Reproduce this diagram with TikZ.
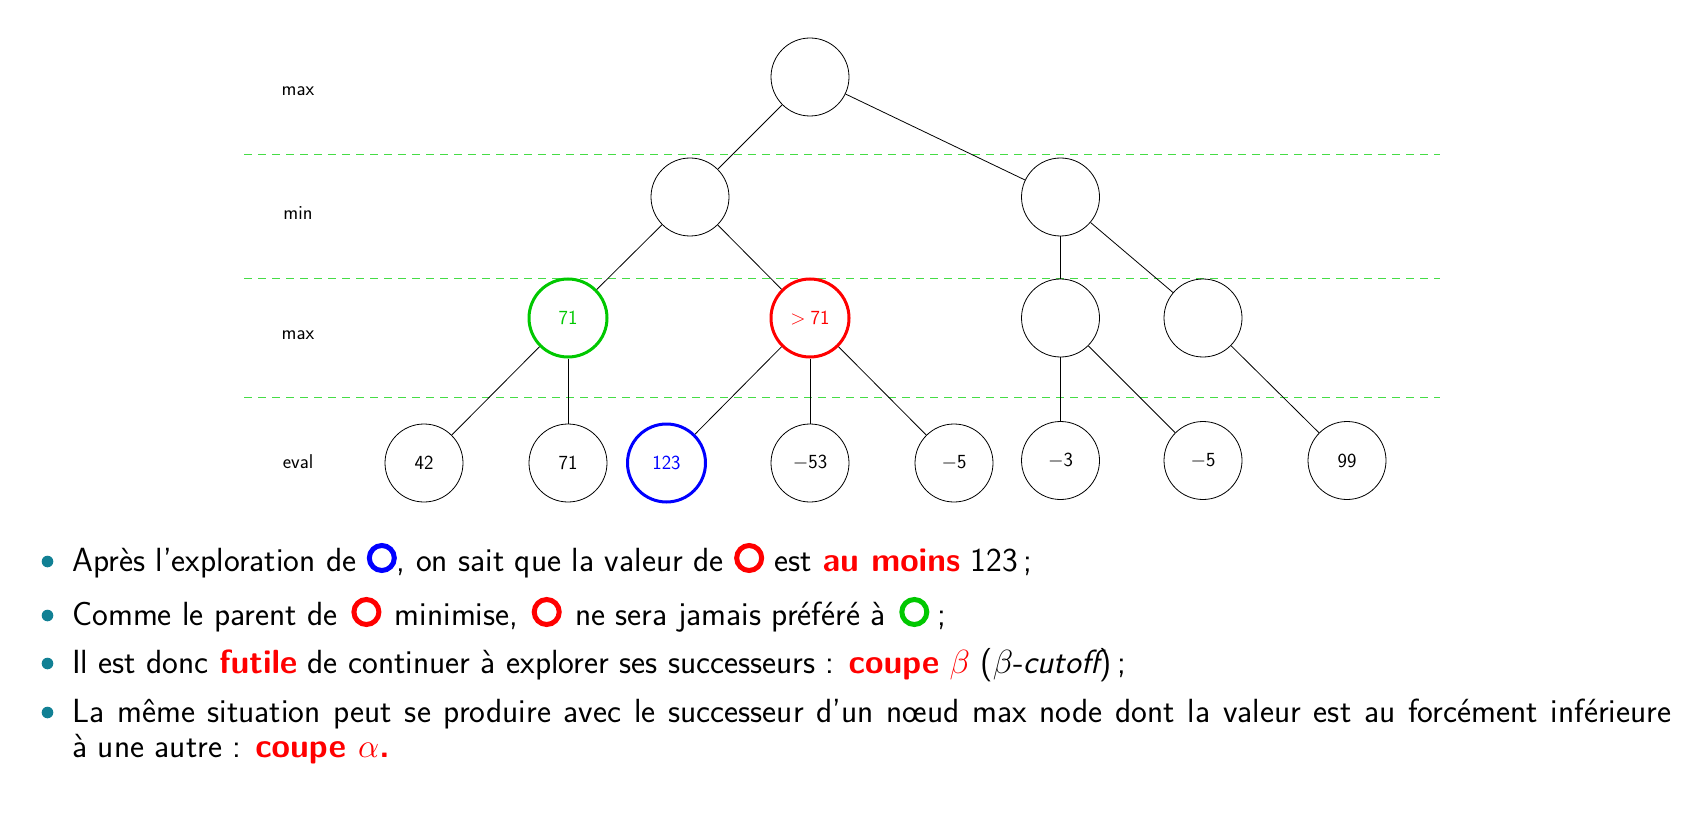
\RequirePackage{fix-cm}
\documentclass[tikz,border=0pt]{standalone}
\usepackage{fontspec}
\renewcommand{\familydefault}{\sfdefault}
\definecolor{cgreen}{RGB}{0,200,0}
\definecolor{dashgreen}{RGB}{70,220,70}
\definecolor{bulletteal}{RGB}{17,128,148}
\newcommand{\oring}[1]{\tikz[baseline=0pt,x=1pt,y=1pt]{\path (0,0) rectangle (30,1); \draw[#1, line width=5pt] (15,13) ellipse (12.5 and 12.5);}}
\newcommand{\oringp}[1]{\hspace{3pt}\oring{#1}\hspace{3pt}}
\newcommand{\hl}[1]{\textcolor{red}{\bfseries #1}}
\begin{document}
\begin{tikzpicture}[x=1pt,y=-1pt,
  tnode/.style={circle, draw, line width=0.8pt, minimum size=78pt, inner sep=0pt, font=\fontsize{20}{24}\selectfont},
  hot/.style={tnode, line width=3pt},
  lvl/.style={anchor=base, inner sep=0pt, font=\fontsize{20}{24}\selectfont},
  sepline/.style={dashgreen, dash pattern=on 8pt off 6pt, line width=1.1pt},
  edgeline/.style={line width=0.8pt},
  txt/.style={anchor=base west, inner sep=0pt, font=\fontsize{33.5}{40}\selectfont},
  bul/.style={fill=bulletteal}]
\useasboundingbox (0,0) rectangle (1683,818);

% separators
\coordinate (s1a) at (244,154.5); \coordinate (s1b) at (1440,154.5);
\coordinate (s2a) at (244,278.5); \coordinate (s2b) at (1440,278.5);
\coordinate (s3a) at (244,397.5); \coordinate (s3b) at (1440,397.5);
\draw[sepline] (s1a) -- (s1b);
\draw[sepline] (s2a) -- (s2b);
\draw[sepline] (s3a) -- (s3b);

% level labels
\node[lvl] (lmax1) at (298,96) {max};
\node[lvl] (lmin) at (298,220) {min};
\node[lvl] (lmax2) at (298,339) {max};
\node[lvl] (leval) at (298,468) {eval};

% tree nodes
\node[tnode] (r) at (810,77) {};
\node[tnode] (a) at (690,197) {};
\node[tnode] (b) at (1060.5,197) {};
\node[hot, draw=cgreen, text=cgreen] (a1) at (568,318) {71};
\node[hot, draw=red, text=red] (a2) at (810,318) {$>$\hspace{5pt}71};
\node[tnode] (b1) at (1060.5,318) {};
\node[tnode] (b2) at (1203,318) {};
\node[tnode] (e1) at (424,463) {42};
\node[tnode] (e2) at (568,463) {71};
\node[hot, draw=blue, text=blue] (e3) at (666.5,463) {123};
\node[tnode] (e4) at (810,463) {$-$53};
\node[tnode] (e5) at (954,463) {$-$5};
\node[tnode] (e6) at (1060.5,460.5) {$-$3};
\node[tnode] (e7) at (1203,460.5) {$-$5};
\node[tnode] (e8) at (1347,460.5) {99};

\draw[edgeline] (r) -- (a);
\draw[edgeline] (r) -- (b);
\draw[edgeline] (a) -- (a1);
\draw[edgeline] (a) -- (a2);
\draw[edgeline] (b) -- (b1);
\draw[edgeline] (b) -- (b2);
\draw[edgeline] (a1) -- (e1);
\draw[edgeline] (a1) -- (e2);
\draw[edgeline] (a2) -- (e3);
\draw[edgeline] (a2) -- (e4);
\draw[edgeline] (a2) -- (e5);
\draw[edgeline] (b1) -- (e6);
\draw[edgeline] (b1) -- (e7);
\draw[edgeline] (b2) -- (e8);

% bullet list
\fill[bul] (47.5,561.5) circle (5.8);
\node[txt] (t1) at (72,571) {Après l’exploration de \oring{blue}, on sait que la valeur de \oring{red} est \hl{au moins} 123\,;};
\fill[bul] (47.5,615.5) circle (5.8);
\node[txt] (t2) at (72,625) {Comme le parent de \oringp{red} minimise, \oringp{red} ne sera jamais préféré à \oringp{cgreen}\,;};
\fill[bul] (47.5,663.5) circle (5.8);
\node[txt] (t3) at (72,673) {Il est donc \hl{futile} de continuer à explorer ses successeurs : \hl{coupe} \textcolor{red}{$\beta$} ($\beta$-{\itshape cutoff})\,;};
\fill[bul] (47.5,712.5) circle (5.8);
\node[txt] (t4) at (72,722) {\makebox[1599pt][s]{La même situation peut se produire avec le successeur d’un nœud max node dont la valeur est au forcément inférieure}};
\node[txt] (t5) at (72,757) {à une autre : \hl{coupe \textcolor{red}{$\alpha$}.}};
\end{tikzpicture}
\end{document}
